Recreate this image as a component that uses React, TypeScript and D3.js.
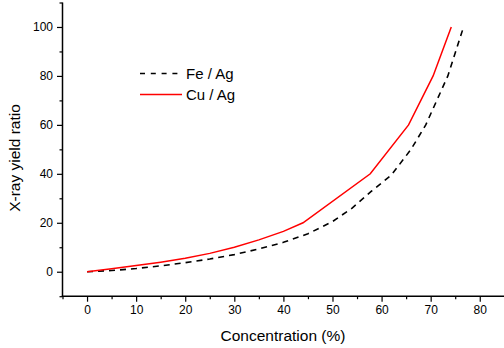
import React, { useEffect, useRef } from 'react';
import * as d3 from 'd3';

// Fe / Ag (dashed black)
const feConc = [0, 5, 10, 15, 20, 25, 30, 35, 40, 45, 50, 54, 58, 62, 66, 69, 73.5, 76.7];
const feRatio = [0, 0.5, 1.3, 2.4, 3.7, 5.2, 7, 9.3, 12, 15.5, 20.5, 26, 33, 39.5, 50, 60, 80, 100];

// Cu / Ag (solid red)
const cuConc = [0, 5, 10, 15, 20, 25, 30, 35, 40, 44, 57.7, 65.5, 70.5, 74.2];
const cuRatio = [0, 1.2, 2.5, 3.9, 5.5, 7.5, 10, 13, 16.5, 20, 40, 60, 80, 100];

const xMajor = [0, 10, 20, 30, 40, 50, 60, 70, 80];
const xMinor = [-5, 5, 15, 25, 35, 45, 55, 65, 75, 85];
const yMajor = [0, 20, 40, 60, 80, 100];
const yMinor = [-10, 10, 30, 50, 70, 90, 110];

const App = () => {
    const svgRef = useRef<SVGSVGElement>(null);

    useEffect(() => {
        const svg = d3.select(svgRef.current);
        svg.selectAll('*').remove();

        const font = '"Liberation Sans", Arial, sans-serif';

        const x = d3.scaleLinear().domain([-5, 85]).range([62.5, 504.3]);
        const y = d3.scaleLinear().domain([-10, 110]).range([296.2, 2.5]);

        const bottom = y(-10);
        const left = x(-5);

        // x axis
        const gx = svg.append('g').attr('transform', `translate(0,${bottom})`);
        gx.call(d3.axisBottom(x).tickValues(xMajor).tickSize(5.5).tickPadding(4).tickFormat(d3.format('d')) as any);
        gx.append('g').call(d3.axisBottom(x).tickValues(xMinor).tickSize(3).tickFormat(() => '') as any);
        gx.selectAll('.domain').remove();
        gx.append('line').attr('x1', left - 0.75).attr('x2', 504).attr('stroke', '#000').attr('stroke-width', 1.5);

        // y axis
        const gy = svg.append('g').attr('transform', `translate(${left},0)`);
        gy.call(d3.axisLeft(y).tickValues(yMajor).tickSize(5.5).tickPadding(4).tickFormat(d3.format('d')) as any);
        gy.append('g').call(d3.axisLeft(y).tickValues(yMinor).tickSize(3).tickFormat(() => '') as any);
        gy.selectAll('.domain').remove();
        gy.append('line').attr('y1', y(110)).attr('y2', bottom + 0.75).attr('stroke', '#000').attr('stroke-width', 1.5);

        svg.selectAll('.tick line').attr('stroke', '#000').attr('stroke-width', 1.2);
        svg.selectAll('.tick text')
            .attr('fill', '#000')
            .style('font-family', font)
            .style('font-size', '12px');

        // axis titles
        svg.append('text')
            .attr('x', 283)
            .attr('y', 341)
            .attr('text-anchor', 'middle')
            .style('font-family', font)
            .style('font-size', '15.5px')
            .text('Concentration (%)');

        svg.append('text')
            .attr('transform', 'translate(20,158) rotate(-90)')
            .attr('text-anchor', 'middle')
            .style('font-family', font)
            .style('font-size', '15.5px')
            .text('X-ray yield ratio');

        const line = d3.line<[number, number]>()
            .x((d) => x(d[0]))
            .y((d) => y(d[1]));

        const fe = feConc.map((c, i) => [c, feRatio[i]] as [number, number]);
        const cu = cuConc.map((c, i) => [c, cuRatio[i]] as [number, number]);

        svg.append('path')
            .attr('d', line(fe))
            .attr('fill', 'none')
            .attr('stroke', '#000')
            .attr('stroke-width', 1.6)
            .attr('stroke-dasharray', '6,5');

        svg.append('path')
            .attr('d', line(cu))
            .attr('fill', 'none')
            .attr('stroke', '#ff0000')
            .attr('stroke-width', 1.5);

        // legend
        const legend = [
            { label: 'Fe / Ag', color: '#000', dash: '5,5.8', yy: 73.5 },
            { label: 'Cu / Ag', color: '#ff0000', dash: null, yy: 94.5 },
        ];
        legend.forEach((l) => {
            svg.append('line')
                .attr('x1', 140).attr('x2', 182)
                .attr('y1', l.yy).attr('y2', l.yy)
                .attr('stroke', l.color)
                .attr('stroke-width', 1.5)
                .attr('stroke-dasharray', l.dash);
            svg.append('text')
                .attr('x', 186)
                .attr('y', l.yy + 5.5)
                .style('font-family', font)
                .style('font-size', '15px')
                .text(l.label);
        });
    }, []);

    return (
        <svg
            ref={svgRef}
            width={504}
            height={348}
            style={{ position: 'absolute', left: 0, top: 0, background: '#fff' }}
        ></svg>
    );
};

export default App;
